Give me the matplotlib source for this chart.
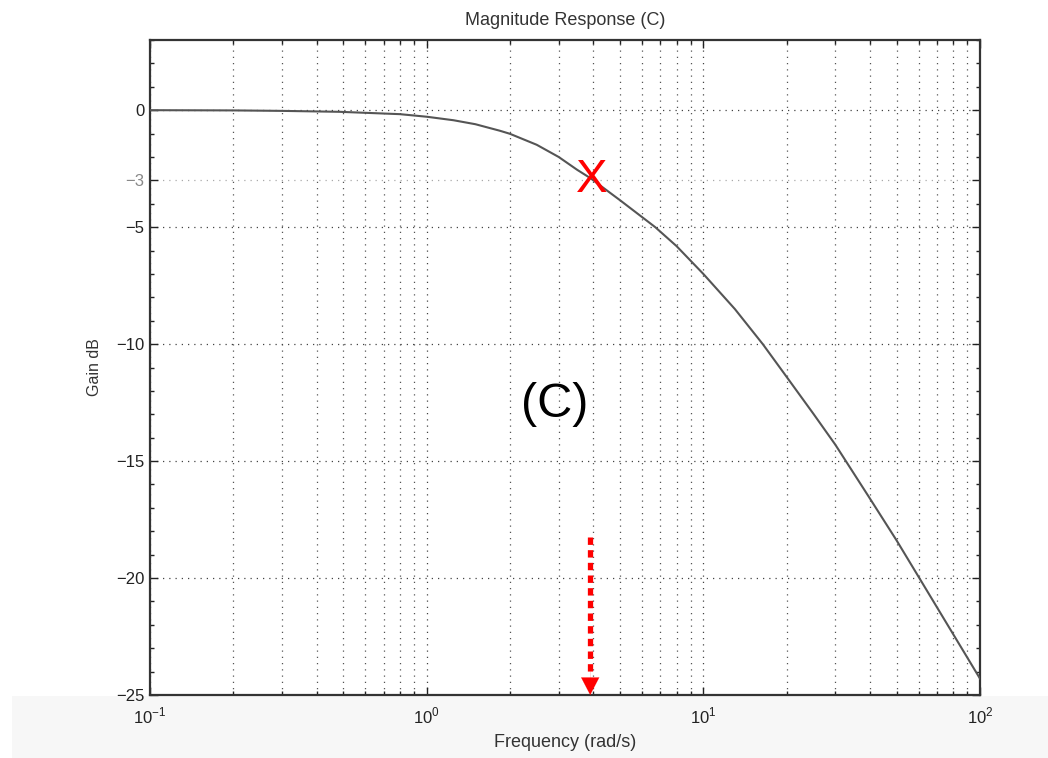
import matplotlib
matplotlib.use("Agg")
import matplotlib.pyplot as plt
from matplotlib.ticker import FixedLocator, NullFormatter, LogLocator
from matplotlib.patches import Rectangle

plt.rcParams['font.family'] = ['Liberation Sans', 'DejaVu Sans']
plt.rcParams['mathtext.fontset'] = 'custom'
plt.rcParams['mathtext.rm'] = 'Liberation Sans'

# Data
freq = [0.1, 0.2, 0.3, 0.485, 0.8, 1.0, 1.25, 1.5, 1.84, 2.0, 2.5, 3.0, 3.5, 3.9, 5.0,
        6.7, 8.0, 10, 13, 16.4, 20, 25, 30, 40, 50, 60, 80, 100]
gain = [0.0, -0.01, -0.03, -0.07, -0.17, -0.28, -0.43, -0.6, -0.88, -1.01, -1.48, -2.0,
        -2.55, -2.9, -3.85, -5.0, -5.81, -7.0, -8.5, -10.0, -11.4, -12.98, -14.3,
        -16.6, -18.4, -19.95, -22.4, -24.3]
yticks = [-25, -20, -15, -10, -5, -3, 0]
ytick_labels = ['\u221225', '\u221220', '\u221215', '\u221210', '\u22125', '\u22123', '0']
xticks = [0.1, 1, 10, 100]
xtick_labels = [r'$10^{-1}$', r'$10^{0}$', r'$10^{1}$', r'$10^{2}$']
marker_freq = 3.9
marker_gain = -3.0
arrow_top_gain = -18.25
label_freq = 2.91
label_gain = -12.6

W, H = 1048, 758
fig = plt.figure(figsize=(W / 100, H / 100), dpi=100)

# light grey band at the bottom of the picture
fig.patches.append(Rectangle((12 / W, 0), 1 - 12 / W, (H - 696) / H,
                             transform=fig.transFigure, facecolor='#f7f7f7',
                             edgecolor='none', zorder=-10))

ax = fig.add_axes([150 / W, 1 - 695 / H, (980 - 150) / W, (695 - 40) / H])
ax.set_xscale('log')
ax.set_xlim(0.1, 100)
ax.set_ylim(-25, 3)

ax.plot(freq, gain, color='#555555', lw=1.5, zorder=3)

ax.set_xticks(xticks)
ax.set_xticklabels(xtick_labels)
ax.xaxis.set_minor_locator(LogLocator(base=10, subs=range(2, 10)))
ax.xaxis.set_minor_formatter(NullFormatter())
ax.set_yticks(yticks)
ax.set_yticklabels(ytick_labels)
ax.yaxis.set_minor_locator(FixedLocator(list(range(-25, 4))))

ax.grid(True, which='major', axis='both', linestyle=(0, (1, 4)), color='#444444', lw=0.9)
ax.grid(True, which='minor', axis='x', linestyle=(0, (1, 4)), color='#555555', lw=0.9)
ax.tick_params(which='both', direction='in', top=True, right=True, labelsize=12,
               colors='#222222', width=1.0)
ax.tick_params(which='major', length=6)
ax.tick_params(which='minor', length=3)
ax.tick_params(axis='x', pad=8)
ax.tick_params(axis='y', pad=4)
for s in ax.spines.values():
    s.set_linewidth(1.6)
    s.set_color('#333333')

# the -3 dB line and label are lighter in the reference
for t, v in zip(ax.get_yticklabels(), yticks):
    if v == -3:
        t.set_color('#888888')
for gl, v in zip(ax.get_ygridlines(), yticks):
    if v == -3:
        gl.set_color('#aaaaaa')

ax.set_title('Magnitude Response (C)', fontsize=13, color='#333333', pad=11)
ax.set_xlabel('Frequency (rad/s)', fontsize=13, color='#333333', labelpad=5)
ax.set_ylabel('Gain dB', fontsize=11.5, color='#333333', labelpad=10)

# annotations
ax.text(marker_freq * 1.01, marker_gain, 'X', color='#ff0000', fontsize=34,
        ha='center', va='center', zorder=5)
ax.text(label_freq, label_gain, '(C)', color='black', fontsize=35,
        ha='center', va='center', zorder=5)
ax.plot([marker_freq, marker_freq], [arrow_top_gain, -24.2], color='#ff0000',
        lw=3.8, linestyle=(0, (1.4, 1.0)), zorder=5, solid_capstyle='butt',
        dash_capstyle='butt')
ax.annotate('', xy=(marker_freq, -25), xytext=(marker_freq, -24.0),
            arrowprops=dict(arrowstyle='-|>,head_length=1.25,head_width=0.65',
                            color='#ff0000', lw=0.1, shrinkA=0, shrinkB=0),
            zorder=6)

fig.savefig('out.png', dpi=100)
